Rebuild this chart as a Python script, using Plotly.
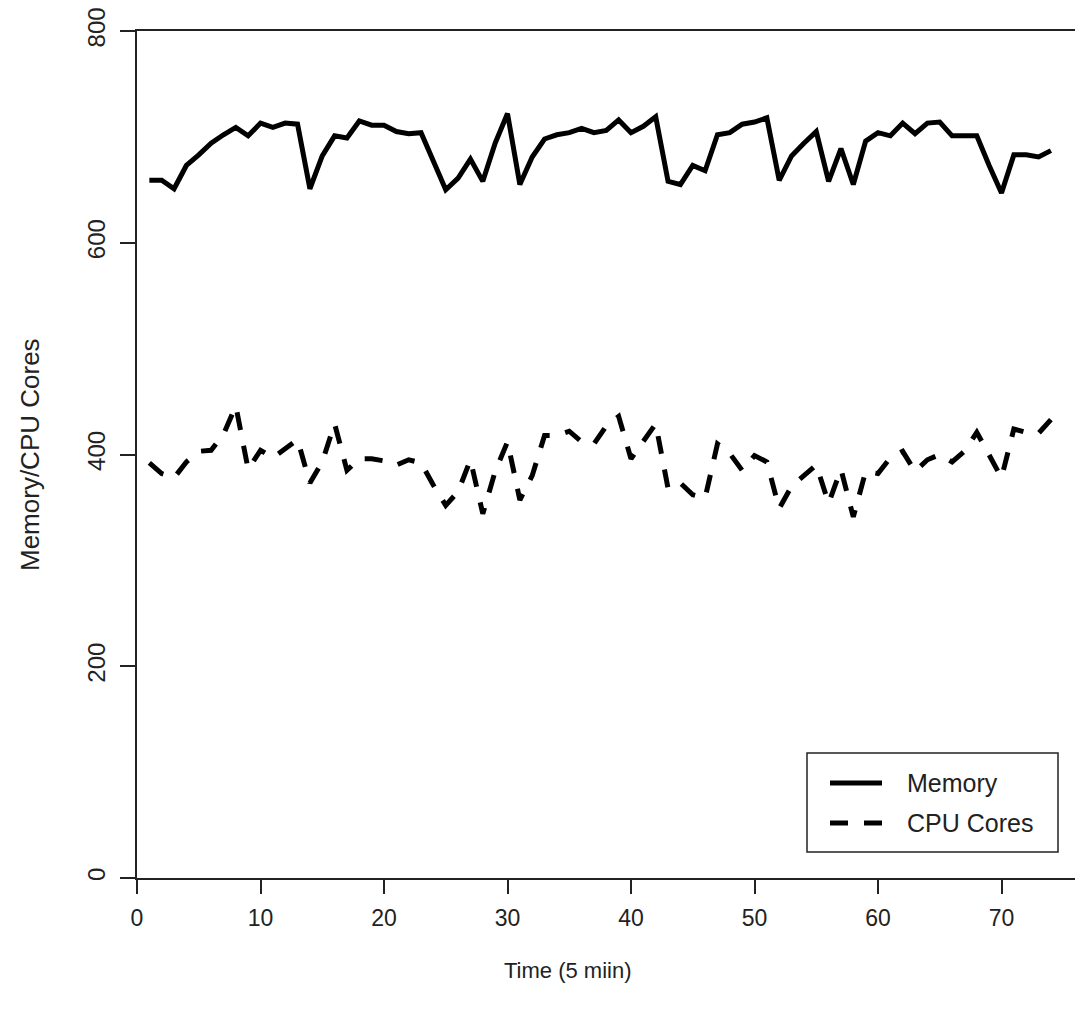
import plotly.graph_objects as go

# ---- data ----
time = list(range(1, 75))
memory = [659, 659, 651, 673, 683, 694, 702, 709, 701, 713,
          709, 713, 712, 651, 682, 701, 699, 715, 711, 711,
          705, 703, 704, 677, 650, 661, 679, 658, 694, 722,
          655, 681, 698, 702, 704, 708, 704, 706, 716, 704,
          710, 719, 658, 655, 673, 668, 702, 704, 712, 714,
          718, 659, 682, 694, 705, 658, 689, 655, 696, 704,
          701, 713, 703, 713, 714, 701, 701, 701, 673, 647,
          683, 683, 681, 687]
cpu_cores = [392, 382, 378, 393, 403, 404, 419, 446, 386, 404,
             397, 405, 414, 373, 393, 429, 385, 396, 396, 394,
             390, 395, 392, 371, 352, 365, 395, 344, 384, 412,
             357, 380, 418, 418, 422, 412, 410, 427, 436, 396,
             413, 429, 368, 373, 362, 359, 410, 401, 385, 399,
             393, 349, 370, 380, 390, 354, 386, 341, 384, 382,
             397, 403, 384, 395, 400, 393, 403, 421, 400, 378,
             424, 421, 420, 433]
x_ticks = [0, 10, 20, 30, 40, 50, 60, 70]
y_ticks = [0, 200, 400, 600, 800]
series_names = ["Memory", "CPU Cores"]

# ---- layout constants ----
W, H = 1075, 1014
L, R, T, B = 137, 0, 31, 136
PW, PH = W - L - R, H - T - B
FONT = "Liberation Sans, Arial, sans-serif"
TXT = "#222222"
LW = 5


def px(x):
    return (x - L) / PW


def py(y):
    return (H - B - y) / PH


fig = go.Figure()
fig.add_trace(go.Scatter(x=time, y=memory, mode="lines", name=series_names[0],
                         line=dict(color="black", width=LW), showlegend=False))
fig.add_trace(go.Scatter(x=time, y=cpu_cores, mode="lines", name=series_names[1],
                         line=dict(color="black", width=LW, dash="18px,16px"),
                         showlegend=False))

fig.update_layout(
    width=W, height=H,
    margin=dict(l=L, r=R, t=T, b=B),
    paper_bgcolor="white", plot_bgcolor="white",
    font=dict(family=FONT, color=TXT, size=20),
    xaxis=dict(range=[0, PW / 12.35], tickvals=x_ticks, showgrid=False, zeroline=False,
               showline=True, linecolor="#222", linewidth=1.5, mirror=True,
               ticks="outside", ticklen=14, tickwidth=1.5, tickcolor="#222",
               tickfont=dict(size=23, color=TXT, family=FONT), ticklabelstandoff=5),
    yaxis=dict(range=[0, 800], tickvals=y_ticks, showgrid=False, zeroline=False,
               showline=True, linecolor="#222", linewidth=1.5, mirror=False,
               ticks="outside", ticklen=15, tickwidth=1.5, tickcolor="#222",
               tickangle=-90, tickfont=dict(size=24, color=TXT, family=FONT),
               ticklabelstandoff=6),
)

# axis titles
fig.add_annotation(text="Time (5 miin)", xref="paper", yref="paper",
                   x=px(568), y=py(970), showarrow=False,
                   font=dict(size=22, color=TXT, family=FONT),
                   xanchor="center", yanchor="middle")
fig.add_annotation(text="Memory/CPU Cores", xref="paper", yref="paper",
                   x=px(30), y=py(455), showarrow=False, textangle=-90,
                   font=dict(size=26, color=TXT, family=FONT),
                   xanchor="center", yanchor="middle")

# legend box (R-style)
fig.add_shape(type="rect", xref="paper", yref="paper",
              x0=px(807), x1=px(1058), y0=py(753), y1=py(852),
              line=dict(color="#222", width=1.5), fillcolor="white", layer="above")
fig.add_shape(type="line", xref="paper", yref="paper",
              x0=px(830), x1=px(882), y0=py(783), y1=py(783),
              line=dict(color="black", width=LW), layer="above")
fig.add_shape(type="line", xref="paper", yref="paper",
              x0=px(830), x1=px(882), y0=py(823), y1=py(823),
              line=dict(color="black", width=LW, dash="18px,16px"), layer="above")
for name, yy in zip(series_names, [783, 823]):
    fig.add_annotation(text=name, xref="paper", yref="paper",
                       x=px(905), y=py(yy), showarrow=False,
                       font=dict(size=25, color=TXT, family=FONT),
                       xanchor="left", yanchor="middle")

fig.write_html("out.html")
